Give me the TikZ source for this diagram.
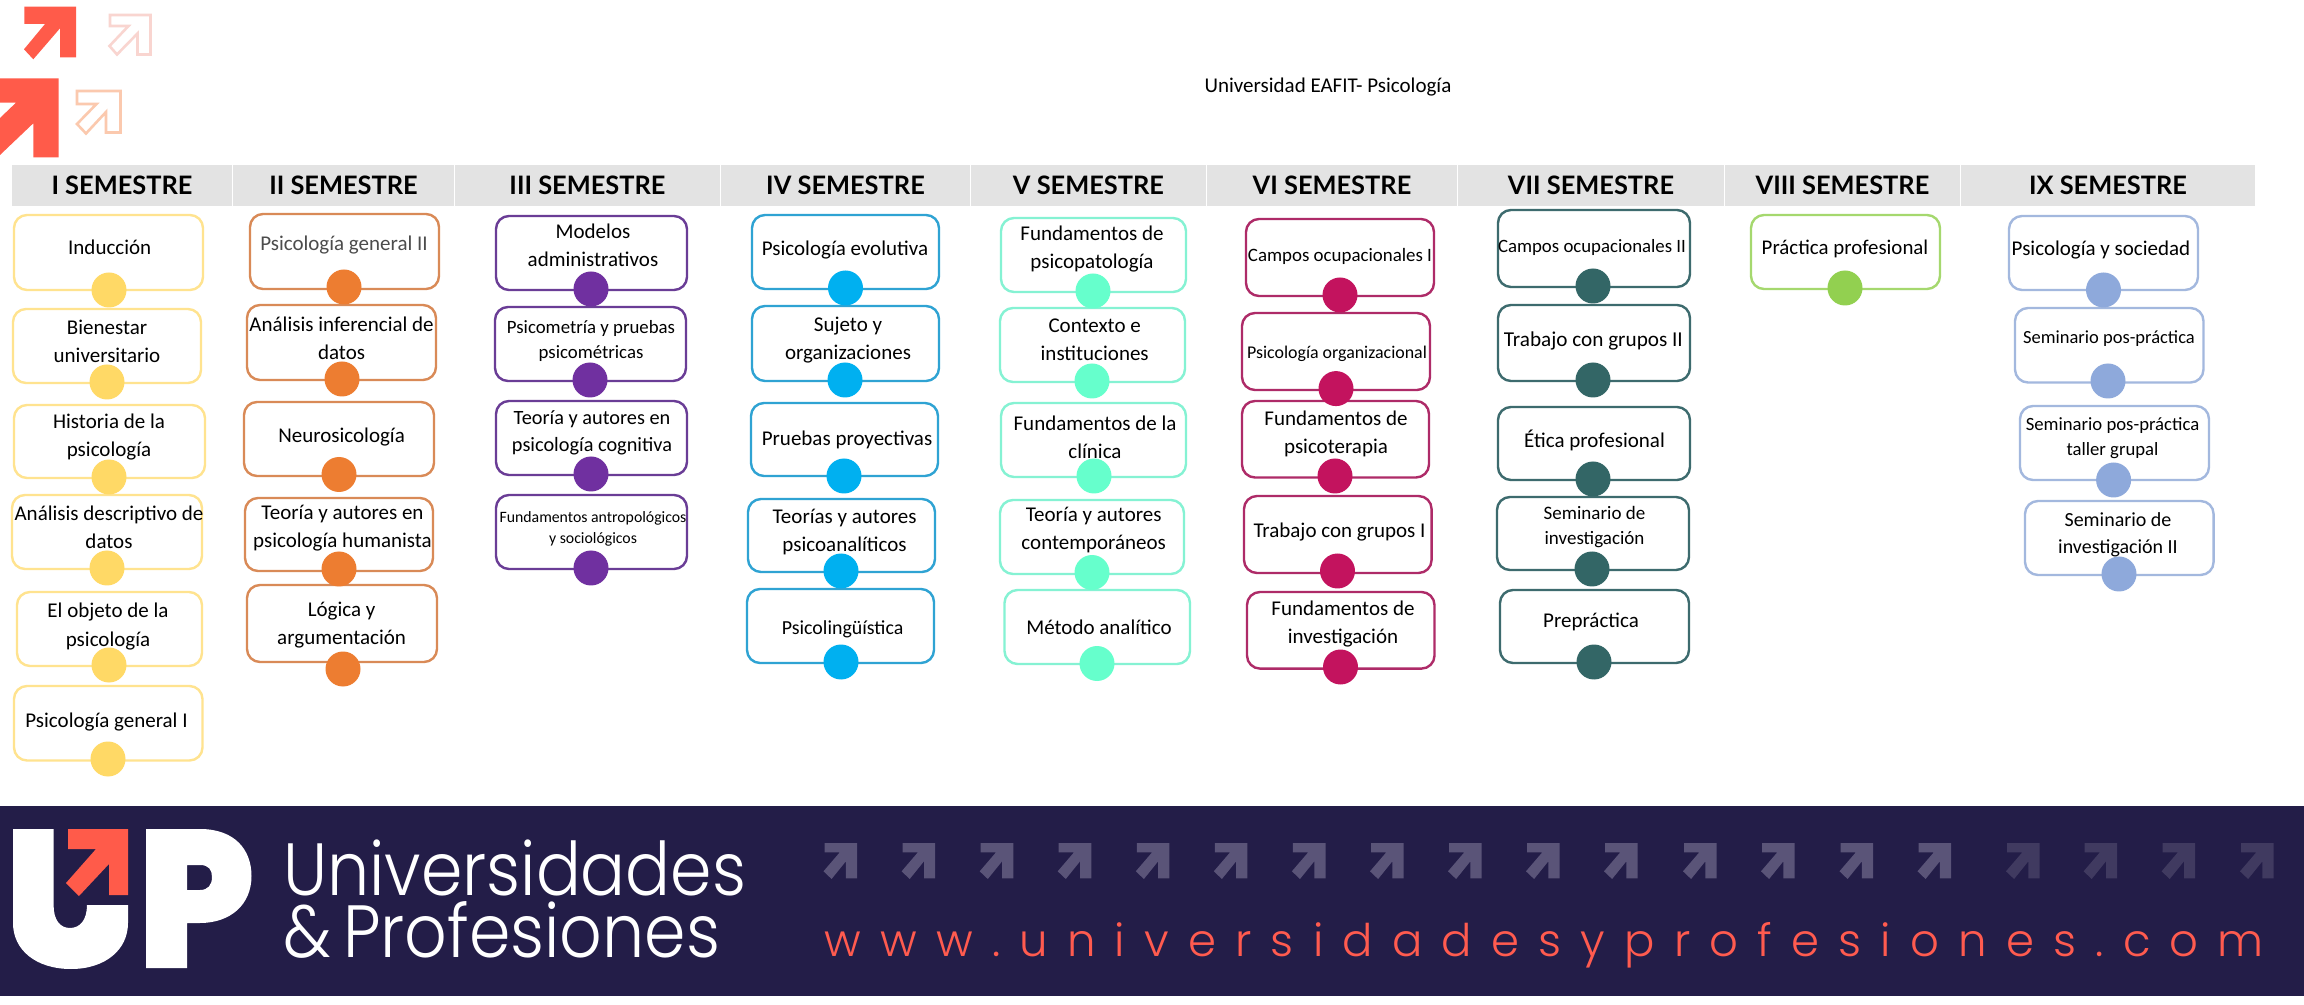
\documentclass[tikz,border=0pt]{standalone}
\usepackage{fontspec}
\usetikzlibrary{backgrounds}
\setmainfont{Carlito}
\newfontfamily\headf{Lato}
\newfontfamily\upf{Poppins Light}[FakeStretch=0.9]
\newfontfamily\urlf{Poppins Light}[LetterSpace=42.7,Kerning=Off]
\definecolor{band}{HTML}{231D48}
\definecolor{redup}{HTML}{FF5B4A}
\definecolor{urlc}{HTML}{FF5B4F}
\definecolor{headg}{HTML}{E3E3E3}
\definecolor{paleA}{HTML}{F9D5D0}
\definecolor{paleB}{HTML}{FBC9AE}
\definecolor{arrA}{HTML}{5A5478}
\definecolor{arrB}{HTML}{403A60}
\definecolor{lineA}{HTML}{FFE38F}\definecolor{fillA}{HTML}{FFD966}
\definecolor{lineB}{HTML}{D98A57}\definecolor{fillB}{HTML}{ED7D31}
\definecolor{lineC}{HTML}{6A3D96}\definecolor{fillC}{HTML}{7030A0}
\definecolor{lineD}{HTML}{2FA3D3}\definecolor{fillD}{HTML}{00B0F0}
\definecolor{lineE}{HTML}{85F2D3}\definecolor{fillE}{HTML}{66FFCC}
\definecolor{lineF}{HTML}{AE2B68}\definecolor{fillF}{HTML}{C3135E}
\definecolor{lineG}{HTML}{3D6B6E}\definecolor{fillG}{HTML}{336666}
\definecolor{lineH}{HTML}{A5D86E}\definecolor{fillH}{HTML}{92D050}
\definecolor{lineI}{HTML}{A3B8DE}\definecolor{fillI}{HTML}{8EA9DB}
\tikzset{
  coursebox/.style={rectangle,rounded corners=6.5pt,line width=1.2pt,inner sep=0pt,outer sep=0pt},
  coursedot/.style={circle,inner sep=0pt,outer sep=0pt,minimum size=17.5pt},
  coursetext/.style={inner sep=0pt,outer sep=0pt,align=center,text=black},
  headcell/.style={rectangle,fill=headg,inner sep=0pt,outer sep=0pt,minimum height=20.5pt,font=\headf\bfseries\fontsize{12.7pt}{15pt}\selectfont},
}
% id, colour letter, x1,y1,x2,y2,cx,cy
\newcommand{\cbox}[8]{%
  \pgfmathsetmacro\bw{(#5-#3)*0.5}\pgfmathsetmacro\bh{(#6-#4)*0.5}%
  \begin{pgfonlayer}{background}
  \node[coursebox,draw=line#2,minimum width=\bw pt,minimum height=\bh pt] (#1) at ({(#3+#5)/2},{(#4+#6)/2}) {};
  \end{pgfonlayer}
  \node[coursedot,fill=fill#2] (#1dot) at (#7,#8) {};
}
% id, x, y, size px, text
\newcommand{\ctext}[5]{%
  \pgfmathsetmacro\fs{#4*0.5}\pgfmathsetmacro\bs{#4*0.67}\pgfmathsetmacro\ty{#3+0.5}%
  \node[coursetext,font=\fontsize{\fs pt}{\bs pt}\selectfont] (#1txt) at (#2,\ty) {#5};
}
% id, x1, x2, text
\newcommand{\hcell}[4]{%
  \pgfmathsetmacro\bw{(#3-#2)*0.5}%
  \node[headcell,minimum width=\bw pt] (#1) at ({(#2+#3)/2},185.5) {#4};
}
\newcommand{\bandarrow}[2]{%
  \fill[#2,shift={(#1,843)}] (0,0)--(32.6,0)--(32.6,35.3)--(21.4,35.3)--(21.4,18.3)--(7.1,36)--(-1,28.3)--(15.3,9.3)--(0,9.3)--cycle;
}
\begin{document}
\begin{tikzpicture}[x=0.5pt,y=-0.5pt]
\useasboundingbox (0,0) rectangle (2304,1005);
\begin{pgfonlayer}{background}
\fill[white] (0,0) rectangle (2304,1005);
\end{pgfonlayer}
% top arrows
\fill[redup] (24.3,6.7)--(76,6.7)--(76,57.3)--(60,57.3)--(60,28.3)--(33.3,59.3)--(24,49.3)--(45,24)--(24.3,24)--cycle;
\draw[paleA,line width=1.3pt] (110,15)--(150.5,15)--(150.5,54.5)--(137.5,54.5)--(137.5,33.5)--(117,54.5)--(109.5,46)--(128.5,26)--(110,26)--cycle;
\fill[redup] (0,78.3)--(58.7,78.3)--(58.7,157.3)--(33.3,157.3)--(33.3,123.3)--(0,155)--(0,118)--(16,102.7)--(0,102.7)--cycle;
\draw[paleB,line width=1.3pt] (77,91)--(120.5,91)--(120.5,132.5)--(106,132.5)--(106,112)--(86,133.5)--(77,124)--(96.5,104)--(77,104)--cycle;
% title
\node[coursetext,font=\fontsize{10.5pt}{12pt}\selectfont] (title) at (1328,87.5) {Universidad EAFIT- Psicología};
% headers
\hcell{h1}{12}{232}{I SEMESTRE}
\hcell{h2}{233}{454}{II SEMESTRE}
\hcell{h3}{455}{720}{III SEMESTRE}
\hcell{h4}{721}{970}{IV SEMESTRE}
\hcell{h5}{971}{1206}{V SEMESTRE}
\hcell{h6}{1207}{1457}{VI SEMESTRE}
\hcell{h7}{1458}{1724}{VII SEMESTRE}
\hcell{h8}{1725}{1960}{VIII SEMESTRE}
\hcell{h9}{1961}{2255}{IX SEMESTRE}
% column I
\cbox{a1}{A}{14}{215}{203}{290}{109}{290}
\cbox{a2}{A}{13}{309}{201}{383}{107}{382}
\cbox{a3}{A}{14}{405}{205}{478}{109}{477}
\cbox{a4}{A}{12}{495}{202}{569}{107}{568}
\cbox{a5}{A}{17}{592}{202}{666}{109}{665}
\cbox{a6}{A}{14}{686}{202.5}{760.5}{108}{759}
\ctext{a1}{109.7}{247}{21}{Inducción}
\ctext{a2}{107}{340.5}{21}{Bienestar\\universitario}
\ctext{a3}{109}{436.7}{21}{Historia de la\\psicología}
\ctext{a4}{109}{526.4}{21}{Análisis descriptivo de\\datos}
\ctext{a5}{108}{626}{21}{El objeto de la\\psicología}
\ctext{a6}{106.5}{721.6}{21}{Psicología general I}
% column II
\cbox{b1}{B}{250}{214}{439}{289}{344}{287}
\cbox{b2}{B}{247}{305}{436}{380}{342}{379}
\cbox{b3}{B}{244}{402}{434}{476}{339}{474.5}
\cbox{b4}{B}{245}{498}{433}{571}{339}{569}
\cbox{b5}{B}{247}{585}{437}{662}{343}{669}
\ctext{b1}{344}{244.4}{21}{\textcolor{black!70}{Psicología general II}}
\ctext{b2}{341.6}{337.4}{21}{Análisis inferencial de\\datos}
\ctext{b3}{341.6}{436.8}{21}{Neurosicología}
\ctext{b4}{342.5}{527.7}{21}{Teoría y autores en\\psicología humanista}
\ctext{b5}{341.6}{625}{21}{Lógica y\\argumentación}
% column III
\cbox{c1}{C}{496}{216}{687}{290}{591}{289}
\cbox{c2}{C}{495}{307}{686}{381}{590}{380}
\cbox{c3}{C}{496}{401}{687}{475}{591}{474}
\cbox{c4}{C}{496}{495}{687}{569}{591}{568}
\ctext{c1}{593}{244.4}{21}{Modelos\\administrativos}
\ctext{c2}{591}{340.6}{18.8}{Psicometría y pruebas\\psicométricas}
\ctext{c3}{592}{432}{20.3}{Teoría y autores en\\psicología cognitiva}
\ctext{c4}{593}{528}{15.8}{Fundamentos antropológicos\\y sociológicos}
% column IV
\cbox{d1}{D}{752}{215}{939}{289}{845.5}{288}
\cbox{d2}{D}{752}{306}{939}{381}{845}{380}
\cbox{d3}{D}{751}{403}{938}{476}{844}{476}
\cbox{d4}{D}{748}{499}{935}{572}{841}{571}
\cbox{d5}{D}{747}{589}{934}{663}{841}{662}
\ctext{d1}{845}{249.6}{21}{Psicología evolutiva}
\ctext{d2}{848}{339.6}{21}{Sujeto y\\organizaciones}
\ctext{d3}{847}{439.6}{21}{Pruebas proyectivas}
\ctext{d4}{844.6}{531.5}{21}{Teorías y autores\\psicoanalíticos}
\ctext{d5}{842.6}{629}{19.9}{Psicolingüística}
% column V
\cbox{e1}{E}{1001}{218}{1186}{292}{1093}{291}
\cbox{e2}{E}{1000}{308}{1185}{382}{1092}{381}
\cbox{e3}{E}{1001}{403}{1186}{477}{1094}{476}
\cbox{e4}{E}{1000}{500}{1184}{574}{1092}{572.5}
\cbox{e5}{E}{1004.5}{590}{1190}{664}{1097}{663.5}
\ctext{e1}{1092}{248.5}{21}{Fundamentos de\\psicopatología}
\ctext{e2}{1094.7}{339.6}{21}{Contexto e\\instituciones}
\ctext{e3}{1095}{437}{21}{Fundamentos de la\\clínica}
\ctext{e4}{1093.7}{529.6}{21}{Teoría y autores\\contemporáneos}
\ctext{e5}{1099}{626.8}{21}{Método analítico}
% column VI
\cbox{f1}{F}{1246}{219}{1434}{296}{1340}{295}
\cbox{f2}{F}{1242}{313}{1430}{390}{1336}{388.6}
\cbox{f3}{F}{1242}{401}{1429}{477.5}{1335}{476}
\cbox{f4}{F}{1244}{496}{1431.6}{573}{1337.5}{571}
\cbox{f5}{F}{1247}{592}{1434.5}{668.6}{1340.5}{667}
\ctext{f1}{1340}{256.4}{18.9}{Campos ocupacionales I}
\ctext{f2}{1337}{353.6}{17.9}{Psicología organizacional}
\ctext{f3}{1336}{433.5}{21}{Fundamentos de\\psicoterapia}
\ctext{f4}{1339.5}{531.4}{21}{Trabajo con grupos I}
\ctext{f5}{1343}{623.5}{21}{Fundamentos de\\investigación}
% column VII
\cbox{g1}{G}{1498}{210}{1690}{287}{1593}{286}
\cbox{g2}{G}{1498}{305}{1690}{381}{1593}{380}
\cbox{g3}{G}{1498}{407}{1690}{480}{1593}{479}
\cbox{g4}{G}{1497}{497}{1689}{570}{1592}{569}
\cbox{g5}{G}{1500}{590}{1689}{663}{1594}{662}
\ctext{g1}{1592}{247}{18.8}{Campos ocupacionales II}
\ctext{g2}{1593.4}{340.7}{21.2}{Trabajo con grupos II}
\ctext{g3}{1594.5}{440}{21}{Ética profesional}
\ctext{g4}{1594.5}{526.4}{19}{Seminario de\\investigación}
\ctext{g5}{1591}{621.4}{21}{Prepráctica}
% column VIII
\cbox{h1b}{H}{1751}{215}{1940}{289}{1845}{288}
\ctext{h1b}{1845}{248.6}{20.9}{Práctica profesional}
% column IX
\cbox{i1}{I}{2009}{216}{2198}{290}{2103.5}{290}
\cbox{i2}{I}{2015}{308}{2203.5}{382.5}{2108}{381}
\cbox{i3}{I}{2020}{406}{2209}{480}{2113.6}{480}
\cbox{i4}{I}{2025}{501}{2213.6}{575}{2119}{574}
\ctext{i1}{2101}{249.6}{21}{Psicología y sociedad}
\ctext{i2}{2109}{338}{18.5}{Seminario pos-práctica}
\ctext{i3}{2112.5}{437.7}{18.7}{Seminario pos-práctica\\taller grupal}
\ctext{i4}{2118}{534}{20}{Seminario de\\investigación II}
% footer band
\fill[band] (0,806) rectangle (2304,995.7);
\fill[white] (13,829)--(53.6,829)--(53.6,905) .. controls (53.6,920) and (60,928) .. (70,928) .. controls (80,928) and (87,920) .. (87,905)--(128,905)--(128,923) .. controls (128,950) and (105,969) .. (71,969) .. controls (36,969) and (13,950) .. (13,923)--cycle;
\fill[white,even odd rule] (146,829)--(200,829) .. controls (235,829) and (251.5,850) .. (251.5,876) .. controls (251.5,905) and (230,923) .. (200,923)--(187,923)--(187,968)--(146,968)--cycle
  (187,865)--(200,865) .. controls (209,865) and (212,870) .. (212,877) .. controls (212,885) and (208,890) .. (200,890)--(187,890)--cycle;
\fill[redup] (68,829)--(128,829)--(128,895)--(109,895)--(109,864)--(79,896)--(66,883)--(96,849)--(68,849)--cycle;
\node[anchor=base west,inner sep=0pt,text=white,font=\upf\fontsize{37pt}{40pt}\selectfont] (uni) at (283,895) {Universidades};
\node[anchor=base west,inner sep=0pt,text=white,font=\upf\fontsize{37pt}{40pt}\selectfont] (prof) at (283,957) {\&\hspace{6pt}Profesiones};
\foreach \x in {824.5,902.6,980.7,1058.7,1136.8,1214.8,1292.9,1371,1449,1527,1605,1684,1762,1840.5,1918.5}{\bandarrow{\x}{arrA}}
\foreach \x in {2007,2084.6,2162.6,2241}{\bandarrow{\x}{arrB}}
\node[anchor=base west,inner sep=0pt,text=urlc,font=\urlf\fontsize{22.5pt}{24pt}\selectfont] (url) at (824,956.7) {www.universidadesyprofesiones.com};
\end{tikzpicture}
\end{document}
